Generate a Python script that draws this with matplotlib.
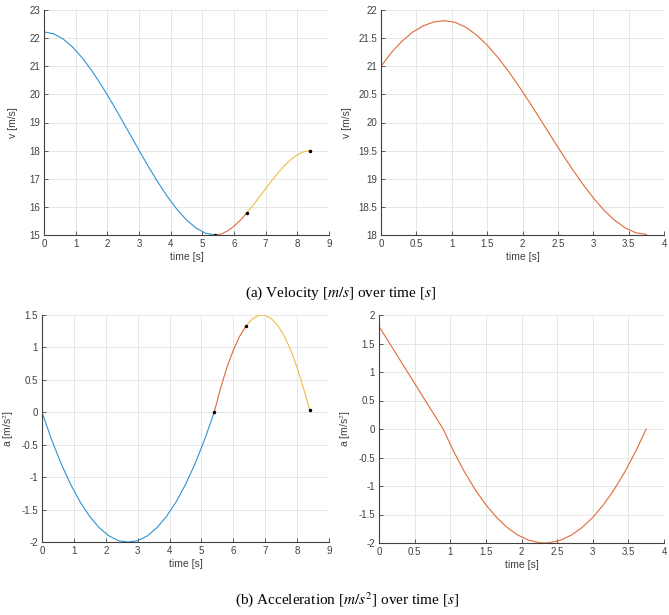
import matplotlib.pyplot as plt
from matplotlib.ticker import FormatStrFormatter

plt.rcParams['font.family'] = ['Liberation Sans', 'DejaVu Sans']
plt.rcParams['axes.unicode_minus'] = False
plt.rcParams['mathtext.fontset'] = 'stix'

# colours (MATLAB default order, a little lighter as they render thin)
BLUE = '#2f93d3'
RED = '#e06a3a'
YELLOW = '#f0bd45'
GREY = '#404040'

# --- left column: three segments ---
t_seg1 = [0, 0.3, 0.6, 0.9, 1.2, 1.5, 1.8, 2.1, 2.4, 2.7, 3.0, 3.3, 3.6, 3.9,
          4.2, 4.5, 4.8, 5.1, 5.4]
v_seg1 = [22.22, 22.156, 21.972, 21.685, 21.309, 20.858, 20.348, 19.793, 19.209,
          18.61, 18.011, 17.426, 16.872, 16.362, 15.911, 15.535, 15.248, 15.064, 15.0]
a_seg1 = [0, -0.421, -0.792, -1.114, -1.386, -1.609, -1.782, -1.906, -1.98,
          -2.0, -1.98, -1.906, -1.782, -1.609, -1.386, -1.114, -0.792, -0.421, 0]

t_seg2 = [5.4, 5.6, 5.8, 6.0, 6.2, 6.4]
v_seg2 = [15.0, 15.038, 15.146, 15.312, 15.526, 15.778]
a_seg2 = [0, 0.373, 0.693, 0.96, 1.173, 1.333]

t_seg3 = [6.4, 6.6, 6.8, 6.9, 7.0, 7.2, 7.4, 7.6, 7.8, 8.0, 8.2, 8.4]
v_seg3 = [15.778, 16.056, 16.35, 16.5, 16.65, 16.944, 17.222, 17.474, 17.688,
          17.854, 17.962, 18.0]
a_seg3 = [1.333, 1.44, 1.493, 1.5, 1.493, 1.44, 1.333, 1.173, 0.96, 0.693, 0.373, 0.03]

# --- right column: single trajectory ---
t_right = [0, 0.15, 0.3, 0.45, 0.6, 0.75, 0.9, 1.05, 1.2, 1.35, 1.5, 1.65, 1.8,
           1.95, 2.1, 2.25, 2.325, 2.4, 2.55, 2.7, 2.85, 3.0, 3.15, 3.3, 3.45,
           3.6, 3.75]
v_right = [21.0, 21.248, 21.45, 21.608, 21.72, 21.788, 21.81, 21.78, 21.693,
           21.556, 21.376, 21.159, 20.913, 20.643, 20.356, 20.06, 19.91, 19.76,
           19.464, 19.177, 18.908, 18.661, 18.444, 18.264, 18.128, 18.04, 18.01]
a_right = [1.8, 1.5, 1.2, 0.9, 0.6, 0.3, 0, -0.399, -0.753, -1.064, -1.33, -1.551,
           -1.729, -1.862, -1.95, -1.994, -2.0, -1.994, -1.95, -1.862, -1.729,
           -1.551, -1.33, -1.064, -0.753, -0.399, 0]


def style(ax, xlim, ylim, xstep, ystep):
    ax.set_xlim(*xlim)
    ax.set_ylim(*ylim)
    nx = int(round((xlim[1] - xlim[0]) / xstep))
    ny = int(round((ylim[1] - ylim[0]) / ystep))
    ax.set_xticks([xlim[0] + i * xstep for i in range(nx + 1)])
    ax.set_yticks([ylim[0] + i * ystep for i in range(ny + 1)])
    ax.xaxis.set_major_formatter(FormatStrFormatter('%g'))
    ax.yaxis.set_major_formatter(FormatStrFormatter('%g'))
    ax.grid(True, color='#e3e3e3', lw=0.6)
    ax.set_axisbelow(True)
    for s in ['top', 'right']:
        ax.spines[s].set_visible(False)
    for s in ['left', 'bottom']:
        ax.spines[s].set_color(GREY)
        ax.spines[s].set_linewidth(0.8)
    ax.tick_params(direction='in', length=3, width=0.6, colors=GREY,
                   labelsize=7, pad=3, labelcolor=GREY)
    ax.set_xlabel('time [s]', fontsize=7.5, color=GREY, labelpad=2)


fig = plt.figure(figsize=(6.69, 6.15), dpi=100)

ax1 = fig.add_axes([44 / 669, 1 - 235 / 615, 285 / 669, 225 / 615])
ax1.plot(t_seg1, v_seg1, color=BLUE, lw=0.8)
ax1.plot(t_seg2, v_seg2, color=RED, lw=0.8)
ax1.plot(t_seg3, v_seg3, color=YELLOW, lw=0.8)
ax1.plot([t_seg2[0], t_seg3[0], t_seg3[-1]], [v_seg2[0], v_seg3[0], v_seg3[-1]],
         'k.', ms=3)
style(ax1, (0, 9), (15, 23), 1, 1)
ax1.set_ylabel('v [m/s]', fontsize=7.5, color=GREY, labelpad=8)

ax2 = fig.add_axes([381 / 669, 1 - 235 / 615, 283 / 669, 225 / 615])
ax2.plot(t_right, v_right, color=RED, lw=0.8)
style(ax2, (0, 4), (18, 22), 0.5, 0.5)
ax2.set_ylabel('v [m/s]', fontsize=7.5, color=GREY, labelpad=4)

ax3 = fig.add_axes([42 / 669, 1 - 542 / 615, 287 / 669, 227 / 615])
ax3.plot(t_seg1, a_seg1, color=BLUE, lw=0.8)
ax3.plot(t_seg2, a_seg2, color=RED, lw=0.8)
ax3.plot(t_seg3, a_seg3, color=YELLOW, lw=0.8)
ax3.plot([t_seg2[0], t_seg3[0], t_seg3[-1]], [a_seg2[0], a_seg3[0], a_seg3[-1]],
         'k.', ms=3)
style(ax3, (0, 9), (-2, 1.5), 1, 0.5)
ax3.set_ylabel('a [m/s$^2$]', fontsize=7.5, color=GREY, labelpad=4)

ax4 = fig.add_axes([379 / 669, 1 - 543 / 615, 285 / 669, 228 / 615])
ax4.plot(t_right, a_right, color=RED, lw=0.8)
style(ax4, (0, 4), (-2, 2), 0.5, 0.5)
ax4.set_ylabel('a [m/s$^2$]', fontsize=7.5, color=GREY, labelpad=4)

fig.text(340 / 669, 1 - 293 / 615, '(a) Velocity [$m/s$] over time [$s$]',
         ha='center', va='center', fontsize=11, family='Liberation Serif')
fig.text(347 / 669, 1 - 600 / 615, '(b) Acceleration [$m/s^2$] over time [$s$]',
         ha='center', va='center', fontsize=11, family='Liberation Serif')

fig.savefig('out.png', dpi=100)
